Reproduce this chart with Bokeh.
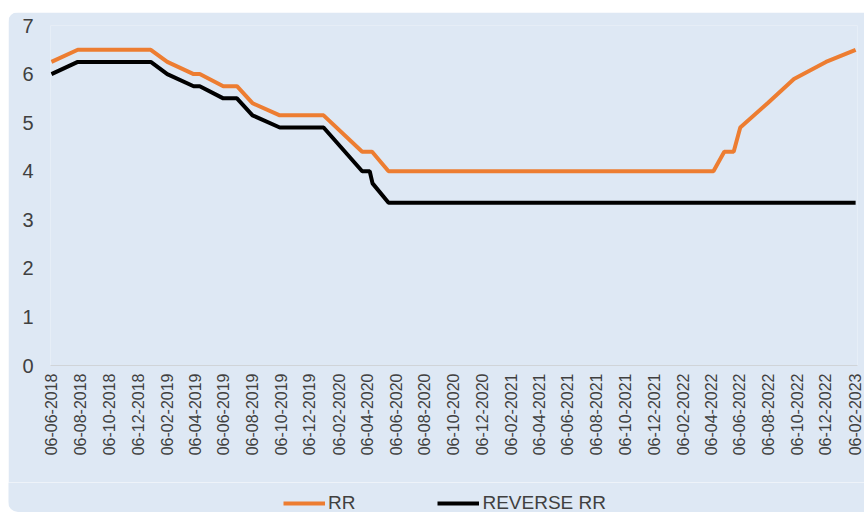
import pandas as pd
from math import pi
from bokeh.plotting import figure
from bokeh.layouts import column
from bokeh.models import (Range1d, FixedTicker, DatetimeTickFormatter, Legend,
                          LegendItem, ColumnDataSource)
from bokeh.embed import file_html
from bokeh.resources import INLINE

# ---- data ----
SERIES_NAMES = ["RR", "REVERSE RR"]

RR_DATES = ["2018-06-06", "2018-08-01", "2019-01-03", "2019-02-07", "2019-04-04",
            "2019-04-17", "2019-06-06", "2019-07-05", "2019-08-07", "2019-10-04",
            "2020-01-05", "2020-03-27", "2020-04-17", "2020-05-22", "2022-04-12",
            "2022-05-05", "2022-05-25", "2022-06-08", "2022-08-05", "2022-09-30",
            "2022-12-07", "2023-02-08"]
RR_VALUES = [6.25, 6.50, 6.50, 6.25, 6.00,
             6.00, 5.75, 5.75, 5.40, 5.15,
             5.15, 4.40, 4.40, 4.00, 4.00,
             4.40, 4.40, 4.90, 5.40, 5.90,
             6.25, 6.50]

REV_DATES = ["2018-06-06", "2018-08-01", "2019-01-03", "2019-02-07", "2019-04-04",
             "2019-04-17", "2019-06-06", "2019-07-05", "2019-08-07", "2019-10-04",
             "2020-01-05", "2020-03-27", "2020-04-12", "2020-04-18", "2020-05-22",
             "2023-02-08"]
REV_VALUES = [6.00, 6.25, 6.25, 6.00, 5.75,
              5.75, 5.50, 5.50, 5.15, 4.90,
              4.90, 4.00, 4.00, 3.75, 3.35,
              3.35]

TICK_LABELS = ["06-06-2018", "06-08-2018", "06-10-2018", "06-12-2018",
               "06-02-2019", "06-04-2019", "06-06-2019", "06-08-2019", "06-10-2019", "06-12-2019",
               "06-02-2020", "06-04-2020", "06-06-2020", "06-08-2020", "06-10-2020", "06-12-2020",
               "06-02-2021", "06-04-2021", "06-06-2021", "06-08-2021", "06-10-2021", "06-12-2021",
               "06-02-2022", "06-04-2022", "06-06-2022", "06-08-2022", "06-10-2022", "06-12-2022",
               "06-02-2023"]
Y_TICKS = [0, 1, 2, 3, 4, 5, 6, 7]

# ---- style ----
FONT = "Liberation Sans"
TEXT = "#404040"
BG = "#DEE8F4"
ORANGE = "#ED7D31"
BLACK = "#000000"
COLORS = [ORANGE, BLACK]

rr_src = ColumnDataSource(dict(x=pd.to_datetime(RR_DATES), y=RR_VALUES))
rev_src = ColumnDataSource(dict(x=pd.to_datetime(REV_DATES), y=REV_VALUES))
SOURCES = [rr_src, rev_src]
tick_ms = [pd.Timestamp(pd.to_datetime(t, format="%d-%m-%Y")).value / 1e6 for t in TICK_LABELS]

# ---- main chart ----
p = figure(width=856, height=470, x_axis_type="datetime",
           output_backend="svg", toolbar_location=None,
           x_range=Range1d(pd.Timestamp("2018-06-04"), pd.Timestamp("2023-02-12")),
           y_range=Range1d(0, 7),
           min_border_left=42, min_border_right=7, min_border_top=13, min_border_bottom=117,
           background_fill_color=BG, border_fill_color=BG, outline_line_color=None,
           margin=(12, 0, 0, 8),
           styles={"border-top-left-radius": "10px", "overflow": "hidden"})

p.xgrid.visible = False
p.ygrid.visible = False

for src, c in zip(SOURCES, COLORS):
    p.line("x", "y", source=src, line_color=c, line_width=4)

ya = p.yaxis[0]
ya.ticker = FixedTicker(ticks=Y_TICKS)
ya.axis_line_color = None
ya.major_tick_line_color = None
ya.minor_tick_line_color = None
ya.major_tick_out = 0
ya.major_tick_in = 0
ya.major_label_standoff = 17
ya.major_label_text_font = FONT
ya.major_label_text_font_size = "20px"
ya.major_label_text_color = TEXT

xa = p.xaxis[0]
xa.ticker = FixedTicker(ticks=tick_ms)
fmt = "%d-%m-%Y"
xa.formatter = DatetimeTickFormatter(microseconds=fmt, milliseconds=fmt, seconds=fmt,
                                     minsec=fmt, minutes=fmt, hourmin=fmt, hours=fmt,
                                     days=fmt, months=fmt, years=fmt)
xa.axis_line_color = "#D0D4D8"
xa.axis_line_width = 1
xa.major_tick_line_color = None
xa.minor_tick_line_color = None
xa.major_tick_out = 0
xa.major_tick_in = 0
xa.major_label_standoff = 8
xa.major_label_orientation = pi / 2
xa.major_label_text_font = FONT
xa.major_label_text_font_size = "16px"
xa.major_label_text_color = TEXT

# ---- legend strip below the chart (series drawn out of its view, only the legend shows) ----
lg = figure(width=856, height=30, output_backend="svg", toolbar_location=None,
            x_range=Range1d(0, 1), y_range=Range1d(0, 1),
            x_axis_location=None, y_axis_location=None,
            min_border_left=0, min_border_right=0, min_border_top=0, min_border_bottom=0,
            background_fill_color=BG, border_fill_color=BG, outline_line_color=None,
            frame_align=False,
            margin=(0, 0, 0, 8),
            styles={"border-bottom-left-radius": "10px", "overflow": "hidden"})
lg.xgrid.visible = False
lg.ygrid.visible = False
proxies = [lg.line("x", "y", source=src, line_color=c, line_width=4)
           for src, c in zip(SOURCES, COLORS)]

legend = Legend(items=[LegendItem(label=n, renderers=[r]) for n, r in zip(SERIES_NAMES, proxies)],
                location=(275, -2), orientation="horizontal",
                background_fill_alpha=0, border_line_color=None,
                padding=0, margin=0, spacing=82,
                glyph_width=42, glyph_height=20, label_height=20, label_standoff=3,
                label_text_font=FONT, label_text_font_size="19px",
                label_text_color=TEXT)
lg.add_layout(legend, "center")

layout = column(p, lg, spacing=0)
open("out.html", "w").write(file_html(layout, INLINE))
